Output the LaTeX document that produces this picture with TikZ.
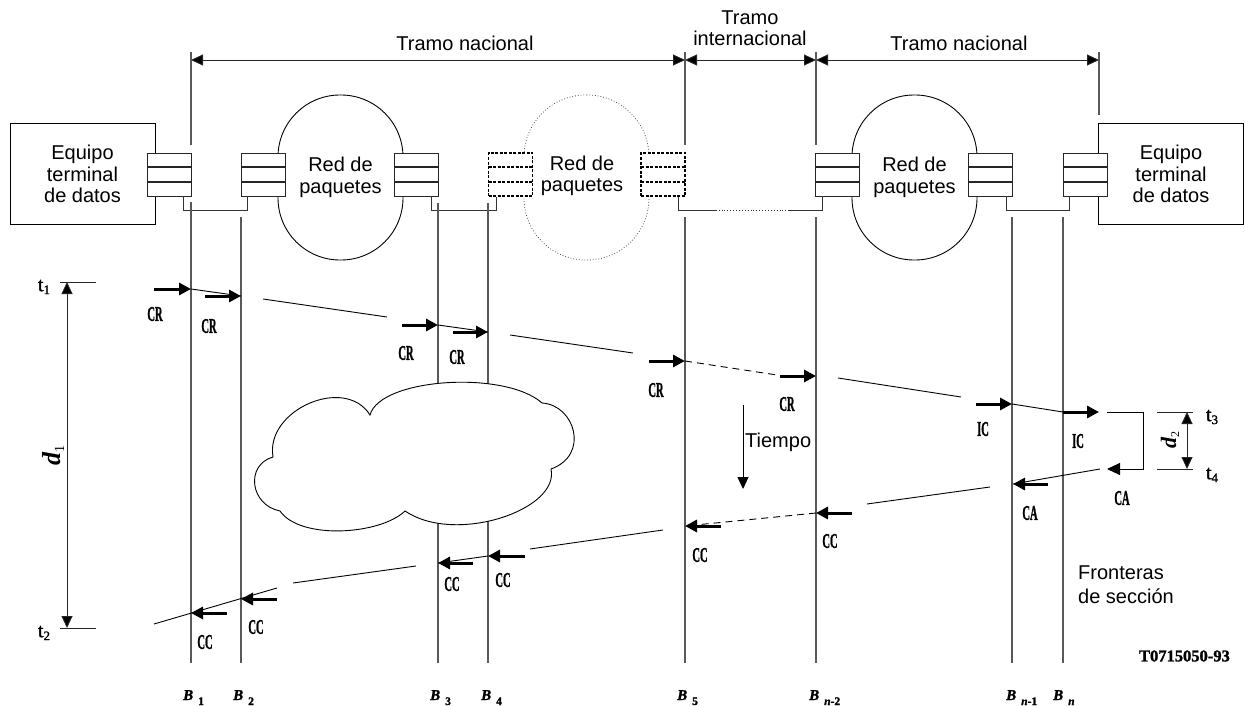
\documentclass[tikz,border=0pt]{standalone}
\usepackage{graphicx}
\usepackage{fontspec}
\setmainfont{Liberation Sans}
\newfontfamily\serif{Liberation Serif}
\newfontfamily\heavyserif[FakeBold=1.5]{Liberation Serif}
\usetikzlibrary{arrows.meta}

% message labels: heavy condensed serif
\newcommand\msgfont{\heavyserif\bfseries\fontsize{21}{21}\selectfont}
\newcommand\mtxt[1]{\scalebox{0.5}[1]{\msgfont #1}}
% boundary labels B_x
\newcommand\blab[1]{{\heavyserif\bfseries\itshape\fontsize{15}{15}\selectfont B}\hspace{5pt}\raisebox{-5pt}{\heavyserif\bfseries\fontsize{11.5}{11.5}\selectfont #1}}
% instants t_x
\newcommand\tlab[1]{{\heavyserif\fontsize{20}{20}\selectfont t\raisebox{-3pt}{\fontsize{13}{13}\selectfont #1}}}

\tikzset{
  big/.style={font=\fontsize{20}{21.5}\selectfont, align=center, inner sep=0pt},
  term/.style={draw, line width=1pt, minimum width=145pt, minimum height=100pt, big},
  net/.style={draw, line width=0.9pt, rounded corners=62pt, minimum width=125pt, minimum height=165pt, big},
  netd/.style={net, draw=black!70, line width=0.8pt, dotted},
  stk/.style={draw=black!85, line width=0.9pt, fill=white, minimum width=44pt, minimum height=43pt, inner sep=0pt,
    path picture={\draw[line width=2pt]
      ([yshift=-14.3pt]path picture bounding box.north west) -- ([yshift=-14.3pt]path picture bounding box.north east)
      ([yshift=14.3pt]path picture bounding box.south west) -- ([yshift=14.3pt]path picture bounding box.south east);}},
  stkd/.style={draw=black, line width=1.5pt, dash pattern=on 3pt off 1.5pt, fill=white, minimum width=44pt, minimum height=43pt, inner sep=0pt,
    path picture={\draw[line width=1.8pt, dash pattern=on 3pt off 1.5pt]
      ([yshift=-14.3pt]path picture bounding box.north west) -- ([yshift=-14.3pt]path picture bounding box.north east)
      ([yshift=14.3pt]path picture bounding box.south west) -- ([yshift=14.3pt]path picture bounding box.south east);}},
  conn/.style={draw=black!80, line width=0.9pt},
  bline/.style={draw=black!65, line width=1.1pt},
  dimline/.style={draw=black!85, line width=0.9pt},
  tipA/.style={-{Triangle[length=12pt,width=11pt,fill=black]}},
  dimarrow/.style={dimline, {Triangle[length=12pt,width=11pt,fill=black]}-{Triangle[length=12pt,width=11pt,fill=black]}},
  msg/.style={line width=3pt, -{Triangle[length=12pt,width=12pt]}},
  sig/.style={line width=0.9pt},
  sigd/.style={line width=0.9pt, dash pattern=on 7pt off 5pt},
  mlab/.style={inner sep=0pt}
}

\begin{document}
\begin{tikzpicture}[x=1pt,y=-1pt]
\useasboundingbox (0,0) rectangle (1245,706);

% ---------- packet networks ----------
\node[net]  (net1) at (340.5,177.5) {Red de\\paquetes};
\node[netd] (net2) at (586.5,177.5) {};
\node[big]  (net2t) at (582,176) {Red de\\paquetes};
\node[net]  (net3) at (914.5,177.5) {Red de\\paquetes};

% ---------- data terminal equipment ----------
\node[term] (dteL) at (82.5,174) {Equipo\\terminal\\de datos};
\node[term] (dteR) at (1171,174) {Equipo\\terminal\\de datos};

% ---------- interfaces ----------
\node[stk]  (s1) at (169,174.5) {};
\node[stk]  (s2) at (263,174.5) {};
\node[stk]  (s3) at (416,174.5) {};
\node[stkd] (s4) at (510.5,174.5) {};
\node[stkd] (s5) at (663,174.5) {};
\node[stk]  (s6) at (837.5,174.5) {};
\node[stk]  (s7) at (990.5,174.5) {};
\node[stk]  (s8) at (1085,174.5) {};

% links between interfaces
\draw[conn] ([xshift=-8pt]s1.south east) -- ++(0,14) -| ([xshift=7pt]s2.south west);
\draw[conn] ([xshift=-7pt]s3.south east) -- ++(0,14) -| ([xshift=9pt]s4.south west);
\draw[conn] ([xshift=-7pt]s5.south east) -- ++(0,14) coordinate (lk1) -- ++(37,0) coordinate (lk2);
\draw[conn, dotted, line width=1pt] (lk2) -- ++(73,0) coordinate (lk3);
\draw[conn] (lk3) -| ([xshift=7pt]s6.south west);
\draw[conn] ([xshift=-7pt]s7.south east) -- ++(0,14) -| ([xshift=7pt]s8.south west);

% ---------- section spans ----------
\coordinate (d0) at (191,60);
\coordinate (d1) at (685,60);
\coordinate (d2) at (816,60);
\coordinate (d3) at (1099,60);
\draw[dimarrow] (d0) -- (d1);
\draw[dimarrow] (d1) -- (d2);
\draw[dimarrow] (d2) -- (d3);
\draw[bline] (191,52) -- (191,145);
\draw[bline] (685,52) -- (685,145);
\draw[bline] (816,52) -- (816,145);
\draw[bline] (1099,52) -- (1099,115);
\node[big] (tn1) at (465,43) {Tramo nacional};
\node[big] (ti)  at (750,28) {Tramo\\internacional};
\node[big] (tn2) at (959,43) {Tramo nacional};

% ---------- section boundaries ----------
\foreach \n/\x/\t in {b1/191/202, b2/241/217, b3/438/203, b4/488/203, b5/685/217, bn2/816/217, bn1/1012/217, bn/1063/217}{
  \coordinate (\n t) at (\x,\t);
  \coordinate (\n b) at (\x,663);
  \draw[bline] (\n t) -- (\n b);
}
\node[anchor=base west, inner sep=0pt] (lb1)  at (183,700)  {\blab{1}};
\node[anchor=base west, inner sep=0pt] (lb2)  at (233,700)  {\blab{2}};
\node[anchor=base west, inner sep=0pt] (lb3)  at (430,700)  {\blab{3}};
\node[anchor=base west, inner sep=0pt] (lb4)  at (481,700)  {\blab{4}};
\node[anchor=base west, inner sep=0pt] (lb5)  at (677,700)  {\blab{5}};
\node[anchor=base west, inner sep=0pt] (lbn2) at (809,700)  {\blab{\textit{n}-2}};
\node[anchor=base west, inner sep=0pt] (lbn1) at (1006,700) {\blab{\textit{n}-1}};
\node[anchor=base west, inner sep=0pt] (lbn)  at (1053,700) {\blab{\textit{n}}};

% ---------- cloud ----------
\draw[line width=0.9pt, fill=white] (370,415)
  .. controls (380,378) and (505,370) .. (542,403)
  .. controls (575,405) and (590,455) .. (551,469)
  .. controls (560,510) and (455,545) .. (405,511)
  .. controls (380,535) and (300,540) .. (280,511)
  .. controls (250,505) and (245,465) .. (273,457)
  .. controls (265,410) and (345,375) .. (370,415) -- cycle;

% ---------- d1 : set-up delay ----------
\coordinate (t1a) at (60,282);  \coordinate (t1b) at (96,282);
\coordinate (t2a) at (60,628);  \coordinate (t2b) at (96,628);
\coordinate (ta) at (67,282);   \coordinate (tb) at (67,628);
\draw[dimline] (t1a) -- (t1b);
\draw[dimline] (t2a) -- (t2b);
\draw[dimarrow] (ta) -- (tb);
\node[inner sep=0pt] (lt1) at (44,287) {\tlab{1}};
\node[inner sep=0pt] (lt2) at (44,633) {\tlab{2}};
\node[rotate=90, inner sep=0pt] (ld1) at (53,455) {\serif\bfseries\itshape\fontsize{26}{26}\selectfont d\raisebox{-4pt}{\upshape\mdseries\fontsize{14}{14}\selectfont 1}};

% ---------- call request path ----------
\path (154,289) coordinate (a1s) (191,289) coordinate (a1e)
      (205,296) coordinate (a2s) (241,296) coordinate (a2e)
      (263,299) coordinate (l2s) (387,317) coordinate (l2e)
      (402,325) coordinate (a3s) (438,325) coordinate (a3e)
      (453,332) coordinate (a4s) (488,332) coordinate (a4e)
      (510,335) coordinate (l4s) (633,353) coordinate (l4e)
      (649,361) coordinate (a5s) (685,361) coordinate (a5e)
      (777,375) coordinate (l5e)
      (780,376) coordinate (a6s) (816,376) coordinate (a6e)
      (838,378) coordinate (l6s) (961,397) coordinate (l6e)
      (976,404) coordinate (a7s) (1012,404) coordinate (a7e)
      (1063,412) coordinate (a8s) (1099,412) coordinate (a8e);
\draw[sig] (a1e) -- (a2e);
\draw[sig] (l2s) -- (l2e);
\draw[sig] (a3e) -- (a4e);
\draw[sig] (l4s) -- (l4e);
\draw[sigd] (a5e) -- (l5e);
\draw[sig] (l6s) -- (l6e);
\draw[sig] (a7e) -- (a8s);
\draw[msg] (a1s) -- (a1e);
\draw[msg] (a2s) -- (a2e);
\draw[msg] (a3s) -- (a3e);
\draw[msg] (a4s) -- (a4e);
\draw[msg] (a5s) -- (a5e);
\draw[msg] (a6s) -- (a6e);
\draw[msg] (a7s) -- (a7e);
\draw[msg] (a8s) -- (a8e);
\node[mlab] (m1) at (155,314) {\mtxt{CR}};
\node[mlab] (m2) at (209,326) {\mtxt{CR}};
\node[mlab] (m3) at (406,353) {\mtxt{CR}};
\node[mlab] (m4) at (457,357) {\mtxt{CR}};
\node[mlab] (m5) at (656,390) {\mtxt{CR}};
\node[mlab] (m6) at (787,404) {\mtxt{CR}};
\node[mlab] (m7) at (983,429) {\mtxt{IC}};
\node[mlab] (m8) at (1078,441) {\mtxt{IC}};

% ---------- called terminal turn-around ----------
\coordinate (r0) at (1107,412);
\coordinate (r1) at (1143,412);
\coordinate (r2) at (1143,469);
\coordinate (r3) at (1107,469);
\draw[sig, -{Triangle[length=13pt,width=12pt]}] (r0) -- (r1) -- (r2) -- (r3);
\node[mlab] (m9) at (1122,498) {\mtxt{CA}};
\coordinate (t3a) at (1157,412); \coordinate (t3b) at (1193,412);
\coordinate (t4a) at (1157,469); \coordinate (t4b) at (1193,469);
\draw[dimline] (t3a) -- (t3b);
\draw[dimline] (t4a) -- (t4b);
\draw[dimarrow] (1187,412) coordinate (tc) -- (1187,469) coordinate (td);
\node[rotate=90, inner sep=0pt] (ld2) at (1170,440) {\serif\bfseries\itshape\fontsize{22}{22}\selectfont d\raisebox{-3pt}{\upshape\mdseries\fontsize{12}{12}\selectfont 2}};
\node[inner sep=0pt] (lt3) at (1212,417) {\tlab{3}};
\node[inner sep=0pt] (lt4) at (1212,475) {\tlab{4}};

% ---------- call connected path ----------
\path (1100,469) coordinate (k0)
      (1048,484) coordinate (c1s) (1013,484) coordinate (c1e)
      (990,487)  coordinate (k1s) (867,504) coordinate (k1e)
      (852,513)  coordinate (c2s) (816,513) coordinate (c2e)
      (721,526)  coordinate (c3s) (685,526) coordinate (c3e)
      (663,530)  coordinate (k3s) (530,549) coordinate (k3e)
      (525,556)  coordinate (c4s) (488,556) coordinate (c4e)
      (473,563)  coordinate (c5s) (438,563) coordinate (c5e)
      (416,566)  coordinate (k5s) (293,583) coordinate (k5e)
      (277,588)  coordinate (k6s) (154,624) coordinate (k6e)
      (277,599)  coordinate (c6s) (241,599) coordinate (c6e)
      (227,613)  coordinate (c7s) (191,613) coordinate (c7e);
\draw[sig] (k0) -- (c1e);
\draw[sig] (k1s) -- (k1e);
\draw[sigd] (c2e) -- (c3e);
\draw[sig] (k3s) -- (k3e);
\draw[sig] (c4e) -- (c5e);
\draw[sig] (k5s) -- (k5e);
\draw[sig] (k6s) -- (k6e);
\draw[msg] (c1s) -- (c1e);
\draw[msg] (c2s) -- (c2e);
\draw[msg] (c3s) -- (c3e);
\draw[msg] (c4s) -- (c4e);
\draw[msg] (c5s) -- (c5e);
\draw[msg] (c6s) -- (c6e);
\draw[msg] (c7s) -- (c7e);
\node[mlab] (n1) at (1030,513) {\mtxt{CA}};
\node[mlab] (n2) at (830,541) {\mtxt{CC}};
\node[mlab] (n3) at (700,555) {\mtxt{CC}};
\node[mlab] (n4) at (503,580) {\mtxt{CC}};
\node[mlab] (n5) at (452,584) {\mtxt{CC}};
\node[mlab] (n6) at (256,627) {\mtxt{CC}};
\node[mlab] (n7) at (205,642) {\mtxt{CC}};

% ---------- time axis ----------
\coordinate (tm0) at (743,405);
\coordinate (tm1) at (743,489);
\draw[line width=0.9pt, tipA] (tm0) -- (tm1);
\node[big, anchor=west] (tiempo) at (745,442) {Tiempo};

% ---------- notes ----------
\node[big, anchor=west, align=left, font=\fontsize{20}{24}\selectfont] (front) at (1078,585) {Fronteras\\de sección};
\node[anchor=east, inner sep=0pt] (ref) at (1230,656) {\heavyserif\bfseries\fontsize{16.5}{16.5}\selectfont T0715050-93};
\end{tikzpicture}
\end{document}
